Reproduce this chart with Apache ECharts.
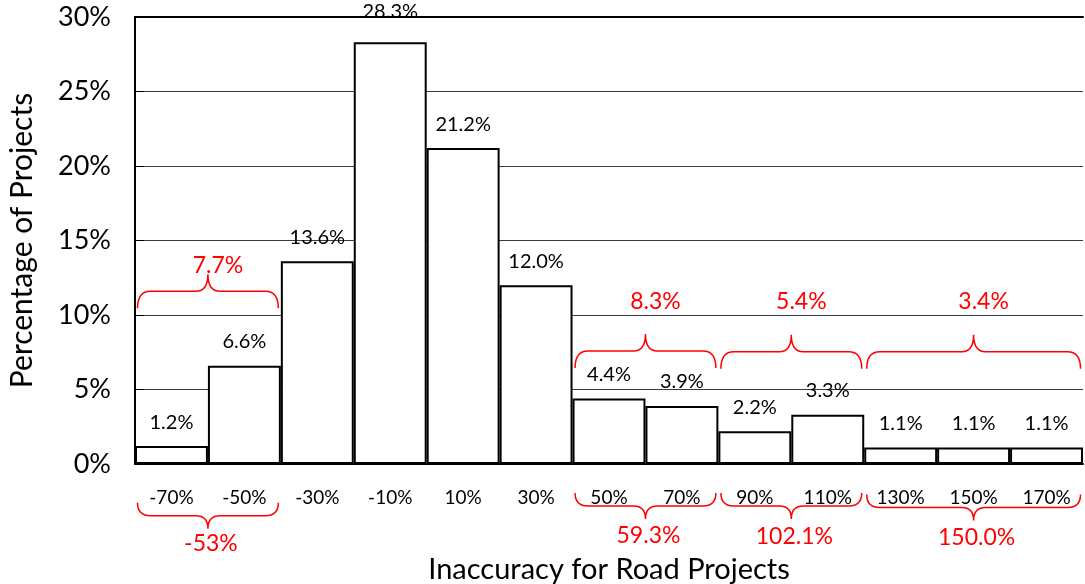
<!DOCTYPE html>
<html>
<head>
<meta charset="utf-8">
<script src="https://cdn.jsdelivr.net/npm/echarts@6/dist/echarts.min.js"></script>
<style>
  html, body { margin: 0; padding: 0; background: #fff; }
  #chart { width: 1085px; height: 584px; }
</style>
</head>
<body>
<div id="chart"></div>
<script>
// Inaccuracy bins (bin centres) and share of road projects in each bin
const categories = ['-70%', '-50%', '-30%', '-10%', '10%', '30%', '50%', '70%', '90%', '110%', '130%', '150%', '170%'];
const shares = [1.2, 6.6, 13.6, 28.3, 21.2, 12.0, 4.4, 3.9, 2.2, 3.3, 1.1, 1.1, 1.1];
const yTicks = [0, 5, 10, 15, 20, 25, 30];

// Bracketed groups of bins: first and last bin index
const groupSpans = [[0, 1], [6, 7], [8, 9], [10, 12]];
// Share of projects in each group (above the bars)
const groupShares = ['7.7%', '8.3%', '5.4%', '3.4%'];
// Mean inaccuracy of each group (below the axis)
const groupMeans = ['-53%', '59.3%', '102.1%', '150.0%'];

const FONT = 'Lato, "Open Sans", sans-serif';
const RED = '#ff0000';

// Placement of the braces, in axis units: tip level and label level
const upperBraceLayout = [
  { tip: 10.45, text: 13.35 },
  { tip: 6.45, text: 10.9 },
  { tip: 6.4, text: 10.9 },
  { tip: 6.4, text: 10.9 }
];
const lowerBraceLayout = [
  { tip: -2.6, text: -5.35 },
  { tip: -1.95, text: -4.8 },
  { tip: -1.95, text: -4.9 },
  { tip: -2.05, text: -4.95 }
];

// Curly-brace path between x1 and x2; dir = -1 opens down (cusp up), +1 opens up (cusp down)
function bracePath(x1, x2, yTip, dir, h1, h2) {
  const xm = (x1 + x2) / 2;
  const yl = yTip + dir * h1;
  const yp = yl + dir * h2;
  const r = 13, rm = 12;
  return 'M' + x1 + ' ' + yTip +
    ' Q' + x1 + ' ' + yl + ' ' + (x1 + r) + ' ' + yl +
    ' L' + (xm - rm) + ' ' + yl +
    ' Q' + xm + ' ' + yl + ' ' + xm + ' ' + yp +
    ' Q' + xm + ' ' + yl + ' ' + (xm + rm) + ' ' + yl +
    ' L' + (x2 - r) + ' ' + yl +
    ' Q' + x2 + ' ' + yl + ' ' + x2 + ' ' + yTip;
}

function braceRenderer(layout, labels, dir, h1, h2, fontSize, dx) {
  return function (params, api) {
    const i = api.value(2);
    const L = layout[i];
    const half = api.size([1, 0])[0] / 2;
    const a = api.coord([api.value(0), L.tip]);
    const b = api.coord([api.value(1), L.tip]);
    const t = api.coord([api.value(0), L.text]);
    const x1 = a[0] - half + 2.5;
    const x2 = b[0] + half - 2.5;
    const xm = (x1 + x2) / 2;
    return {
      type: 'group',
      children: [
        {
          type: 'path',
          shape: { pathData: bracePath(x1, x2, a[1], dir, h1, h2) },
          style: { fill: null, stroke: RED, lineWidth: 1.5 }
        },
        {
          type: 'text',
          style: {
            x: xm + dx, y: t[1], text: labels[i],
            fill: RED, font: fontSize + 'px ' + FONT,
            textAlign: 'center', textVerticalAlign: 'middle'
          }
        }
      ]
    };
  };
}

const peakIdx = shares.indexOf(Math.max.apply(null, shares));

const chart = echarts.init(document.getElementById('chart'), null, { renderer: 'canvas' });
chart.setOption({
  animation: false,
  backgroundColor: '#fff',
  grid: {
    left: 135, right: 2, top: 17, bottom: 120,
    containLabel: false, outerBoundsMode: 'none'
  },
  xAxis: [
    {
      type: 'category',
      data: categories,
      name: 'Inaccuracy for Road Projects',
      nameLocation: 'middle',
      nameGap: 91,
      nameTextStyle: { fontFamily: FONT, fontSize: 29, color: '#000' },
      axisLine: { lineStyle: { color: '#000', width: 2 } },
      axisTick: { show: false },
      axisLabel: { margin: 24, fontFamily: FONT, fontSize: 19, color: '#000' }
    },
    {
      type: 'category',
      position: 'top',
      data: categories,
      axisLine: { lineStyle: { color: '#000', width: 2 } },
      axisTick: { show: false },
      axisLabel: { show: false }
    }
  ],
  yAxis: {
    type: 'value',
    min: yTicks[0],
    max: yTicks[yTicks.length - 1],
    interval: yTicks[1] - yTicks[0],
    name: 'Percentage of Projects',
    nameLocation: 'middle',
    nameGap: 98,
    nameTextStyle: { fontFamily: FONT, fontSize: 30, color: '#000' },
    axisLine: { show: true, lineStyle: { color: '#000', width: 2 } },
    axisTick: { show: true, inside: true, length: 9, lineStyle: { color: '#000' } },
    axisLabel: {
      margin: 24, fontFamily: FONT, fontSize: 27, color: '#000',
      formatter: v => v + '%'
    },
    splitLine: { lineStyle: { color: '#3a3a3a', width: 1 } }
  },
  series: [
    {
      type: 'bar',
      barCategoryGap: 0,
      data: shares.map((v, i) => i === peakIdx
        ? { value: v, label: { offset: [0, -7] } }
        : v),
      itemStyle: { color: '#fff', borderColor: '#000', borderWidth: 2 },
      label: {
        show: true,
        position: 'top',
        distance: 14,
        fontFamily: FONT,
        fontSize: 20,
        color: '#000',
        formatter: p => p.value.toFixed(1) + '%'
      },
      z: 3
    },
    {
      type: 'custom',
      clip: false,
      silent: true,
      z: 5,
      data: groupSpans.map((s, i) => [s[0], s[1], i]),
      encode: { x: 0 },
      renderItem: braceRenderer(upperBraceLayout, groupShares, -1, 17, 17, 23, 10)
    },
    {
      type: 'custom',
      clip: false,
      silent: true,
      z: 5,
      data: groupSpans.map((s, i) => [s[0], s[1], i]),
      encode: { x: 0 },
      renderItem: braceRenderer(lowerBraceLayout, groupMeans, 1, 13, 13, 23, 3)
    }
  ]
});
</script>
</body>
</html>
